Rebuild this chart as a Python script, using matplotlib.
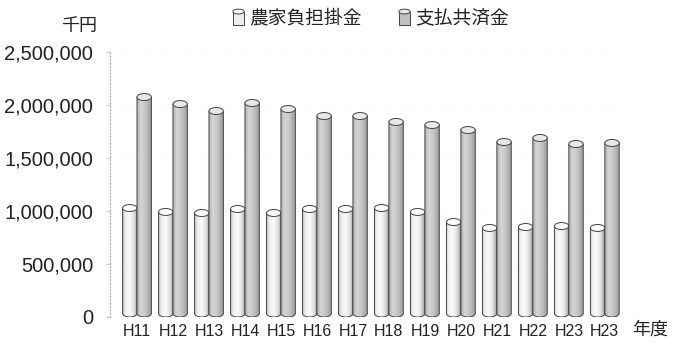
import numpy as np
import matplotlib
matplotlib.use("Agg")
import matplotlib.pyplot as plt
from matplotlib.patches import Ellipse, PathPatch, Rectangle
from matplotlib.path import Path
from matplotlib.colors import LinearSegmentedColormap
from matplotlib.legend_handler import HandlerBase

plt.rcParams['font.family'] = ['Liberation Sans', 'Noto Sans CJK JP']

# data (thousand yen)
years = ['H11', 'H12', 'H13', 'H14', 'H15', 'H16', 'H17',
         'H18', 'H19', 'H20', 'H21', 'H22', 'H23', 'H23']
farmer_premium = [1028000, 991000, 981000, 1019000, 981000, 1019000, 1019000,
                  1028000, 991000, 896000, 840000, 849000, 858000, 840000]
paid_claims = [2075000, 2009000, 1943000, 2019000, 1962000, 1896000, 1896000,
               1840000, 1811000, 1764000, 1651000, 1689000, 1632000, 1642000]
series_names = ['農家負担掛金', '支払共済金']
yticks = [0, 500000, 1000000, 1500000, 2000000, 2500000]

light_cmap = LinearSegmentedColormap.from_list(
    'light', [(0, '#c4c4c4'), (0.15, '#efefef'), (0.45, '#fbfbfb'),
              (0.75, '#dedede'), (1, '#9a9a9a')])
dark_cmap = LinearSegmentedColormap.from_list(
    'dark', [(0, '#b0b0b0'), (0.25, '#d6d6d6'), (0.6, '#c4c4c4'), (1, '#979797')])
edge = '#444444'
grad = np.linspace(0, 1, 64).reshape(1, -1)


def draw_cyl(ax, xc, h, w, eh, cmap, topc, z):
    xl, xr = xc - w / 2, xc + w / 2
    t = np.linspace(np.pi, 2 * np.pi, 40)
    bx = xc + w / 2 * np.cos(t)
    by = eh / 2 + eh / 2 * np.sin(t)
    verts = [(xl, h)] + list(zip(bx, by)) + [(xr, h), (xl, h)]
    body = PathPatch(Path(verts, closed=True), transform=ax.transData,
                     facecolor='none', edgecolor=edge, lw=0.7, zorder=z + 0.1)
    ax.add_patch(body)
    im = ax.imshow(grad, extent=(xl, xr, 0, h), cmap=cmap, aspect='auto',
                   zorder=z, interpolation='bicubic')
    im.set_clip_path(body)
    ax.add_patch(Ellipse((xc, h), w, eh, facecolor=topc, edgecolor=edge,
                         lw=0.7, zorder=z + 0.2))


class CylHandler(HandlerBase):
    def __init__(self, face, topc):
        super().__init__()
        self.face = face
        self.topc = topc

    def create_artists(self, legend, orig_handle, xdescent, ydescent,
                       width, height, fontsize, trans):
        eh = height * 0.3
        body = Rectangle((-xdescent, -ydescent), width, height - eh / 2,
                         facecolor=self.face, edgecolor=edge, lw=0.7, transform=trans)
        top = Ellipse((-xdescent + width / 2, -ydescent + height - eh / 2), width, eh,
                      facecolor=self.topc, edgecolor=edge, lw=0.7, transform=trans)
        return [body, top]


fig = plt.figure(figsize=(6.84, 3.43), dpi=100)
ax = fig.add_axes([110 / 684, 26 / 343, 520 / 684, 265 / 343])

w = 0.4
eh = 66000
x = np.arange(len(years))
for i in range(len(years)):
    draw_cyl(ax, x[i] - 0.2, farmer_premium[i], w, eh, light_cmap, '#fbfbfb', 2 + i)
    draw_cyl(ax, x[i] + 0.2, paid_claims[i], w, eh, dark_cmap, '#e8e8e8', 2.5 + i)

ax.set_xlim(-0.75, 13.7)
ax.set_ylim(0, 2500000)
ax.set_xticks(x)
ax.set_xticklabels(years, fontsize=11.5, color='#222222')
ax.set_yticks(yticks)
ax.set_yticklabels(['{:,}'.format(v) for v in yticks], fontsize=14.5, color='#222222')
ax.tick_params(axis='x', length=0, pad=5)
ax.tick_params(axis='y', length=3, width=0.6, color='#bbbbbb', pad=9)
for s in ['top', 'right', 'bottom']:
    ax.spines[s].set_visible(False)
ax.spines['left'].set_linestyle((0, (1, 2)))
ax.spines['left'].set_color('#aaaaaa')
ax.spines['left'].set_linewidth(0.8)
ax.yaxis.grid(True, linestyle=(0, (1, 5)), color='#ececec', lw=0.6)
ax.set_axisbelow(True)

fig.text(97 / 684, 1 - 26 / 343, '千円', fontsize=13, ha='right', va='center',
         family=['Noto Sans CJK JP'], color='#222222')
fig.text(632 / 684, 1 - 330 / 343, '年度', fontsize=13, ha='left', va='center',
         family=['Noto Sans CJK JP'], color='#222222')

h1 = Rectangle((0, 0), 1, 1)
h2 = Rectangle((0, 0), 1, 1)
leg = fig.legend([h1, h2], series_names, loc='center', bbox_to_anchor=(0.542, 0.947),
                 ncol=2, frameon=False, handlelength=0.6, handleheight=0.95,
                 handletextpad=0.25, columnspacing=2.0,
                 prop={'family': ['Noto Sans CJK JP'], 'size': 13.5},
                 handler_map={h1: CylHandler('#eeeeee', '#ffffff'),
                              h2: CylHandler('#c0c0c0', '#e8e8e8')})
for t in leg.get_texts():
    t.set_color('#222222')

fig.savefig('out.png', dpi=100)
